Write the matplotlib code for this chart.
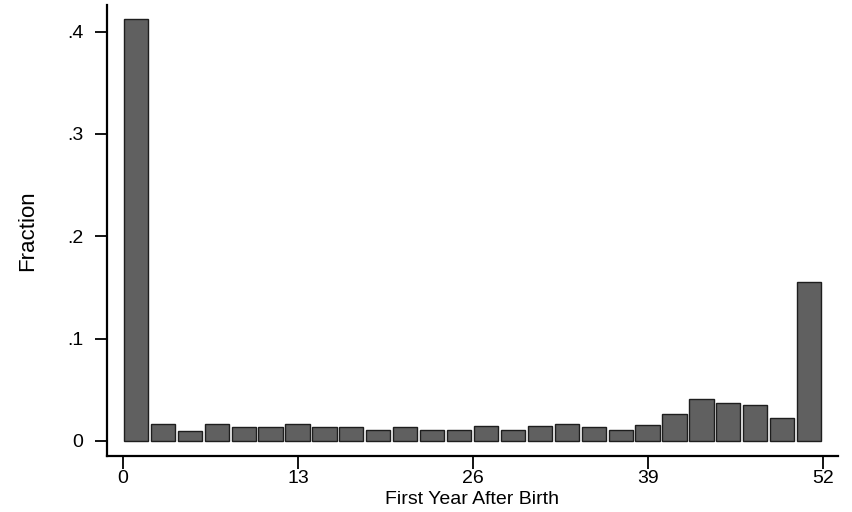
import matplotlib
matplotlib.use("Agg")
import matplotlib.pyplot as plt

# Datos: histograma con bins de 2 semanas (0-52)
bin_left = [0, 2, 4, 6, 8, 10, 12, 14, 16, 18, 20, 22, 24,
            26, 28, 30, 32, 34, 36, 38, 40, 42, 44, 46, 48, 50]
fraction = [0.412, 0.017, 0.010, 0.017, 0.014, 0.014, 0.017, 0.014, 0.014,
            0.011, 0.014, 0.011, 0.011, 0.015, 0.011, 0.015, 0.017, 0.014,
            0.011, 0.016, 0.026, 0.041, 0.037, 0.035, 0.022, 0.155]
x_ticks = [0, 13, 26, 39, 52]
y_ticks = [0, 0.1, 0.2, 0.3, 0.4]
y_labels = ["0", ".1", ".2", ".3", ".4"]

plt.rcParams["font.family"] = ["Liberation Sans", "DejaVu Sans"]

fig = plt.figure(figsize=(8.53, 5.12), dpi=100)
ax = fig.add_axes([0.1254, 0.1094, 0.857, 0.881])

ax.bar([b + 0.06 for b in bin_left], fraction, width=1.8, align="edge",
       color="#606060", edgecolor="#1e1e1e", linewidth=1.0)

ax.set_xlim(-1.19, 53.1)
ax.set_ylim(-0.0147, 0.426)
ax.set_xticks(x_ticks)
ax.set_xticklabels([str(t) for t in x_ticks])
ax.set_yticks(y_ticks)
ax.set_yticklabels(y_labels)

ax.spines["top"].set_visible(False)
ax.spines["right"].set_visible(False)
ax.spines["left"].set_linewidth(1.6)
ax.spines["bottom"].set_linewidth(1.6)
ax.tick_params(axis="both", length=9, width=1.3, labelsize=14)
ax.tick_params(axis="x", pad=1)
ax.tick_params(axis="y", pad=8)

ax.set_xlabel("First Year After Birth", fontsize=14, labelpad=3)
ax.set_ylabel("Fraction", fontsize=16, labelpad=21)

fig.savefig("out.png", dpi=100)
plt.close(fig)
